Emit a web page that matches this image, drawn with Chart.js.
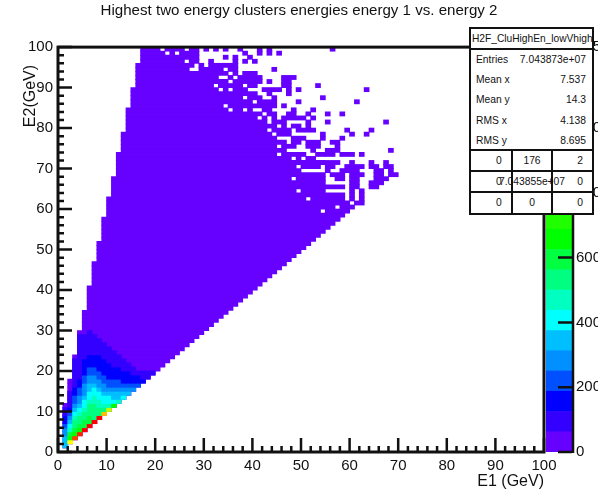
<!DOCTYPE html>
<html>
<head>
<meta charset="utf-8">
<title>Highest two energy clusters</title>
<script src="https://cdn.jsdelivr.net/npm/chart.js@4"></script>
<style>
  html, body { margin: 0; padding: 0; background: #fff; overflow: hidden; }
  body { width: 598px; height: 493px; position: relative; font-family: "Liberation Sans", sans-serif; color: #111; }
  canvas { position: absolute; top: 0; }
  #h2 { left: 0; }
  #palette { left: 540px; }
  #stats { position: absolute; left: 469px; top: 27px; width: 121px; height: 184px; border: 2px solid #111; background: #fff; font-size: 10.3px; }
  #stats div { position: absolute; white-space: nowrap; }
  #stats .hline { left: 0; width: 121px; height: 2px; background: #111; }
  #stats .vline { width: 2px; top: 121px; height: 63px; background: #111; }
</style>
</head>
<body>
<canvas id="h2" width="598" height="493"></canvas>
<canvas id="palette" width="58" height="493"></canvas>
<div id="stats"></div>
<script>
const titleText = 'Highest two energy clusters energies energy 1 vs. energy 2';
const statsTitle = 'H2F_CluHighEn_lowVhigh';
const statNames = ['Entries', 'Mean x', 'Mean y', 'RMS x', 'RMS y'];
const statValues = ['7.043873e+07', '7.537', '14.3', '4.138', '8.695'];
const overflowRows = [['0', '176', '2'], ['0', '7.043855e+07', '0'], ['0', '0', '0']];

// contour colours, bottom to top of the palette
const levelColors = ['#6600ff', '#3300ff', '#0000ff', '#0050ff', '#0090ff', '#00bfff', '#00ffff', '#00ffc0',
  '#00ff80', '#00ff40', '#00ff00', '#20ff00', '#80ff00', '#bfff00', '#ffff00', '#ffbf00',
  '#ff8000', '#ff4000', '#ff2000', '#ff0000'];
const levelStep = 62.5;

// first filled x bin of every y bin, from y bin 1 up
const rowStart = [1,1,1,1,1,1,1,1,1,1,1,2,2,2,2,2,2,3,3,3,3,3,3,4,4,4,4,4,4,5,5,5,5,5,
  6,6,6,6,6,6,7,7,7,7,7,7,8,8,8,8,8,9,9,9,9,9,9];

// y bins 57 to 99 as [first, last] x bins, patchy away from the main body
const sparseRows = {
  57: [[10, 57]],
  58: [[10, 58]],
  59: [[10, 53], [55, 59]],
  60: [[10, 56], [58, 60]],
  61: [[10, 59], [61, 62]],
  62: [[10, 50], [52, 58], [60, 60], [62, 62]],
  63: [[11, 58], [60, 60], [62, 62]],
  64: [[11, 48], [50, 54], [60, 60], [62, 62]],
  65: [[11, 58], [60, 61], [64, 65]],
  66: [[11, 54], [60, 61], [64, 66]],
  67: [[11, 47], [49, 54], [57, 58], [60, 61], [65, 67]],
  68: [[12, 54], [56, 58], [60, 62], [65, 66], [68, 69]],
  69: [[12, 49], [55, 55], [58, 61], [65, 66], [68, 68]],
  70: [[12, 48], [50, 53], [55, 56], [59, 62], [64, 65], [67, 68]],
  71: [[12, 54], [55, 57], [60, 60], [64, 64], [67, 67]],
  72: [[12, 47], [49, 49], [51, 52]],
  73: [[12, 44], [46, 50], [53, 54], [55, 56], [58, 60], [62, 62]],
  74: [[13, 46], [52, 52], [55, 57], [68, 68]],
  75: [[13, 44], [46, 48], [51, 53], [57, 57]],
  76: [[13, 46], [48, 49], [51, 53], [56, 57]],
  77: [[13, 44], [48, 50], [54, 54], [58, 58]],
  78: [[13, 43], [45, 47], [54, 54], [60, 60], [63, 63]],
  79: [[14, 42], [44, 47], [49, 52], [59, 59], [64, 64]],
  80: [[14, 44], [46, 46], [48, 49], [51, 51]],
  81: [[14, 42], [44, 46], [51, 51], [55, 55], [67, 67]],
  82: [[14, 40], [42, 42], [44, 44], [46, 50], [52, 52]],
  83: [[14, 41], [43, 44], [47, 48], [51, 51], [55, 55], [58, 58]],
  84: [[14, 34], [36, 37], [39, 39], [42, 43], [48, 48], [52, 52]],
  85: [[15, 33], [35, 44], [46, 46]],
  86: [[15, 39], [41, 44], [49, 49], [61, 61]],
  87: [[15, 37], [39, 41], [44, 44], [54, 54]],
  88: [[15, 40], [43, 43], [47, 47]],
  89: [[15, 32], [34, 34], [36, 38], [42, 45], [47, 47], [49, 49], [63, 63]],
  90: [[16, 31], [33, 37], [39, 40], [46, 47], [53, 53]],
  91: [[16, 34], [36, 41], [43, 43], [46, 47]],
  92: [[16, 32], [35, 35], [37, 41], [46, 48]],
  93: [[16, 34], [36, 36], [38, 40]],
  94: [[16, 26], [29, 33], [35, 36], [44, 44]],
  95: [[16, 27], [29, 29], [31, 36]],
  96: [[17, 25], [27, 28], [31, 31], [36, 36], [38, 38], [40, 40]],
  97: [[17, 28], [34, 34], [36, 36], [39, 39]],
  98: [[17, 21], [23, 23], [25, 28], [38, 38], [41, 41], [43, 43], [45, 45]],
  99: [[17, 20], [22, 25], [27, 28], [30, 30], [32, 32], [34, 34], [37, 37], [41, 41], [43, 43], [56, 56]]
};

// densest corner: y bin -> [first x bin, contour level of each following x bin]
const coreRows = {
  1: [1, 5],
  2: [1, 5, 14],
  3: [1, 5, 10, 17],
  4: [1, 4, 9, 10, 18],
  5: [1, 4, 7, 9, 10, 19],
  6: [1, 3, 6, 8, 9, 9, 19],
  7: [1, 2, 5, 8, 8, 9, 9, 19],
  8: [1, 2, 4, 7, 8, 8, 9, 8, 19],
  9: [1, 1, 3, 6, 7, 8, 8, 8, 8, 15],
  10: [1, 1, 2, 5, 6, 7, 8, 8, 8, 8, 13],
  11: [2, 1, 4, 5, 6, 8, 8, 7, 7, 7, 10],
  12: [2, 1, 3, 4, 6, 7, 7, 7, 6, 6, 6, 7],
  13: [2, 1, 3, 4, 5, 6, 7, 6, 6, 6, 5, 5, 6],
  14: [2, 1, 2, 3, 4, 6, 6, 6, 5, 5, 5, 5, 5, 5],
  15: [3, 2, 3, 4, 5, 6, 5, 4, 4, 4, 4, 4, 4, 4],
  16: [3, 1, 2, 4, 5, 5, 4, 4, 3, 3, 3, 3, 3, 3, 3],
  17: [3, 1, 2, 3, 4, 4, 4, 3, 3, 3, 3, 2, 2, 2, 2, 2],
  18: [3, 1, 1, 3, 4, 4, 3, 3, 2, 2, 2, 2, 2, 2, 2, 1, 1],
  19: [3, 1, 1, 2, 3, 3, 3, 2, 2, 2, 2, 2, 2, 1, 1, 1, 1, 1],
  20: [3, 1, 1, 2, 3, 3, 2, 2, 2, 2, 2, 1, 1, 1],
  21: [3, 1, 1, 2, 2, 2, 2, 2, 2, 1, 1, 1, 1],
  22: [3, 1, 1, 2, 2, 2, 2, 2, 1, 1, 1, 1],
  23: [4, 1, 1, 2, 2, 2, 1, 1, 1, 1],
  24: [4, 1, 1, 1, 1, 1, 1, 1, 1],
  25: [4, 1, 1, 1, 1, 1, 1, 1],
  26: [4, 1, 1, 1, 1, 1, 1],
  27: [4, 1, 1, 1, 1, 1],
  28: [4, 1, 1, 1, 1],
  29: [6, 1]
};

const xMajorTicks = 10, xMinorTicks = 2;
const paletteTickStep = 200;

const cells = [];
rowStart.forEach((first, i) => {
  const y = i + 1;
  cells.push({ y: y + 0.5, x: [first, y + 1], level: 0 });
});
Object.keys(sparseRows).forEach(y => {
  sparseRows[y].forEach(seg => cells.push({ y: +y + 0.5, x: [seg[0], seg[1] + 1], level: 0 }));
});
Object.keys(coreRows).forEach(y => {
  const row = coreRows[y];
  row.slice(1).forEach((level, i) => {
    cells.push({ y: +y + 0.5, x: [row[0] + i, row[0] + i + 1], level: level });
  });
});

// ROOT style frame, ticks point into the plot
const rootFrame = {
  id: 'rootFrame',
  afterDatasetsDraw(chart) {
    const { ctx, chartArea: a, scales } = chart;
    ctx.save();
    ctx.strokeStyle = '#111';
    ctx.lineWidth = 2.5;
    ctx.beginPath();
    for (let v = 0; v <= 100; v += xMinorTicks) {
      const len = v % xMajorTicks === 0 ? 14 : 6;
      const px = scales.x.getPixelForValue(v);
      ctx.moveTo(px, a.bottom);
      ctx.lineTo(px, a.bottom - len);
      const py = scales.y.getPixelForValue(v);
      ctx.moveTo(a.left, py);
      ctx.lineTo(a.left + len, py);
    }
    ctx.stroke();
    ctx.lineWidth = 3;
    ctx.strokeRect(a.left, a.top, a.right - a.left, a.bottom - a.top);
    ctx.restore();
  }
};

const paletteFrame = {
  id: 'paletteFrame',
  afterDatasetsDraw(chart) {
    const { ctx, chartArea: a, scales } = chart;
    ctx.save();
    ctx.strokeStyle = '#111';
    ctx.lineWidth = 2.5;
    ctx.beginPath();
    for (let v = 0; v <= scales.y.max; v += paletteTickStep) {
      const py = scales.y.getPixelForValue(v);
      ctx.moveTo(a.right, py);
      ctx.lineTo(a.right - 14, py);
    }
    ctx.moveTo(a.right + 1, a.top);
    ctx.lineTo(a.right + 1, a.bottom + 1);
    ctx.stroke();
    ctx.restore();
  }
};

const tickFont = { family: '"Liberation Sans", sans-serif', size: 15 };
const labelFont = { family: '"Liberation Sans", sans-serif', size: 16 };

new Chart(document.getElementById('h2'), {
  type: 'bar',
  data: {
    datasets: [{
      data: cells,
      backgroundColor: c => levelColors[c.raw.level],
      borderWidth: 0,
      inflateAmount: 0.4,
      barPercentage: 1,
      categoryPercentage: 1
    }]
  },
  options: {
    indexAxis: 'y',
    responsive: false,
    animation: false,
    plugins: {
      legend: { display: false },
      tooltip: { enabled: false },
      title: {
        display: true, text: titleText, color: '#111',
        font: { family: '"Liberation Sans", sans-serif', size: 15.1, weight: 'normal' },
        padding: { top: 2, bottom: 27 }
      }
    },
    scales: {
      x: {
        type: 'linear', min: 0, max: 100,
        grid: { display: false, drawTicks: false }, border: { display: false },
        afterFit: s => { s.height = 41; },
        ticks: { stepSize: 10, color: '#111', font: tickFont, maxRotation: 0, padding: 5 },
        title: { display: true, text: 'E1 (GeV)', align: 'end', color: '#111', font: labelFont, padding: { top: 0, bottom: 2 } }
      },
      y: {
        type: 'linear', min: 0, max: 100, offset: false,
        grid: { display: false, drawTicks: false }, border: { display: false },
        afterFit: s => { s.width = 58; },
        ticks: { stepSize: 10, color: '#111', font: tickFont, padding: 5 },
        title: { display: true, text: 'E2(GeV)\u00a0\u00a0\u00a0\u00a0', align: 'end', color: '#111', font: labelFont, padding: { top: 21, bottom: 0 } }
      },
      // empty axis holding the room of the colour bar, keeps the title centred on the page
      barRoom: {
        type: 'linear', position: 'right',
        grid: { display: false, drawTicks: false }, border: { display: false },
        ticks: { display: false },
        afterFit: s => { s.width = 54; }
      }
    }
  },
  plugins: [rootFrame]
});

// colour bar, one stacked block per contour level
new Chart(document.getElementById('palette'), {
  type: 'bar',
  data: {
    labels: ['z'],
    datasets: levelColors.map(color => ({
      data: [levelStep], backgroundColor: color, borderWidth: 0,
      barPercentage: 1, categoryPercentage: 1
    }))
  },
  options: {
    responsive: false,
    animation: false,
    layout: { padding: { left: 6, top: 47, bottom: 41 } },
    plugins: { legend: { display: false }, tooltip: { enabled: false } },
    scales: {
      x: { stacked: true, display: false },
      y: {
        stacked: true, position: 'right', min: 0, max: levelStep * levelColors.length,
        grid: { display: false, drawTicks: false }, border: { display: false },
        afterFit: s => { s.width = 26; },
        ticks: { stepSize: paletteTickStep, autoSkip: false, color: '#111', font: tickFont, padding: 4, callback: v => String(v) }
      }
    }
  },
  plugins: [paletteFrame]
});

const box = document.getElementById('stats');
function put(text, top, side, offset) {
  const d = document.createElement('div');
  d.textContent = text;
  d.style.top = top + 'px';
  d.style[side] = offset + 'px';
  box.appendChild(d);
  return d;
}
function line(cls, prop, pos) {
  const d = document.createElement('div');
  d.className = cls;
  d.style[prop] = pos + 'px';
  box.appendChild(d);
}
put(statsTitle, 4, 'left', 1).style.fontSize = '10.2px';
line('hline', 'top', 19);
statNames.forEach((name, i) => {
  put(name, 25 + i * 20.2, 'left', 5);
  put(statValues[i], 25 + i * 20.2, 'right', 6);
});
[120, 141, 162].forEach(y => line('hline', 'top', y));
[40, 80].forEach(x => line('vline', 'left', x));
overflowRows.forEach((row, r) => {
  const top = 126 + r * 20.8;
  put(row[0], top, 'left', 25);
  const mid = put(row[1], top, 'left', 61);
  mid.style.transform = 'translateX(-50%)';
  put(row[2], top, 'right', 9);
});
</script>
</body>
</html>
